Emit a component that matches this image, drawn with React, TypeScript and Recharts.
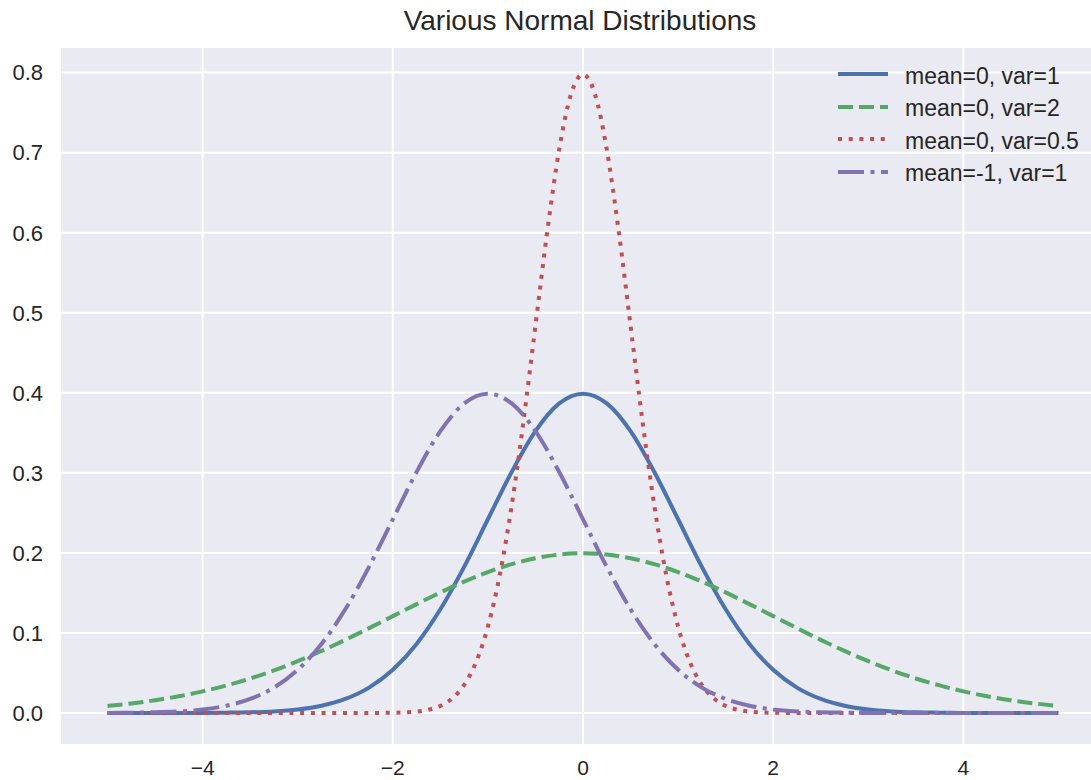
import { LineChart, Line, XAxis, YAxis, CartesianGrid } from "recharts";

// x positions for the wide curves (step 0.25)
const xs = [
  -5, -4.75, -4.5, -4.25, -4, -3.75, -3.5, -3.25, -3, -2.75, -2.5, -2.25, -2, -1.75, -1.5, -1.25, -1, -0.75, -0.5, -0.25,
  0, 0.25, 0.5, 0.75, 1, 1.25, 1.5, 1.75, 2, 2.25, 2.5, 2.75, 3, 3.25, 3.5, 3.75, 4, 4.25, 4.5, 4.75, 5,
];

const blueVals = [
  0, 0, 0, 0, 0.0001, 0.0004, 0.0009, 0.002, 0.0044, 0.0091, 0.0175, 0.0317, 0.054, 0.0863, 0.1295, 0.1826, 0.242, 0.3011, 0.3521, 0.3867,
  0.3989, 0.3867, 0.3521, 0.3011, 0.242, 0.1826, 0.1295, 0.0863, 0.054, 0.0317, 0.0175, 0.0091, 0.0044, 0.002, 0.0009, 0.0004, 0.0001, 0, 0, 0, 0,
];

const greenVals = [
  0.0088, 0.0119, 0.0159, 0.0209, 0.027, 0.0344, 0.0431, 0.0532, 0.0648, 0.0775, 0.0913, 0.106, 0.121, 0.136, 0.1506, 0.1641, 0.176, 0.1859, 0.1933, 0.1979,
  0.1995, 0.1979, 0.1933, 0.1859, 0.176, 0.1641, 0.1506, 0.136, 0.121, 0.106, 0.0913, 0.0775, 0.0648, 0.0532, 0.0431, 0.0344, 0.027, 0.0209, 0.0159, 0.0119, 0.0088,
];

const purpleVals = [
  0.0001, 0.0004, 0.0009, 0.002, 0.0044, 0.0091, 0.0175, 0.0317, 0.054, 0.0863, 0.1295, 0.1826, 0.242, 0.3011, 0.3521, 0.3867, 0.3989, 0.3867, 0.3521, 0.3011,
  0.242, 0.1826, 0.1295, 0.0863, 0.054, 0.0317, 0.0175, 0.0091, 0.0044, 0.002, 0.0009, 0.0004, 0.0001, 0, 0, 0, 0, 0, 0, 0, 0,
];

// the narrow curve needs finer steps near the peak
const xsNarrow = [
  -5, -4, -3, -2.5, -2.25, -2.125, -2, -1.875, -1.75, -1.625, -1.5, -1.375, -1.25, -1.125, -1, -0.875, -0.75, -0.625, -0.5, -0.375, -0.25, -0.125,
  0, 0.125, 0.25, 0.375, 0.5, 0.625, 0.75, 0.875, 1, 1.125, 1.25, 1.375, 1.5, 1.625, 1.75, 1.875, 2, 2.125, 2.25, 2.5, 3, 4, 5,
];

const redVals = [
  0, 0, 0, 0, 0, 0.0001, 0.0003, 0.0007, 0.0017, 0.0041, 0.0089, 0.0182, 0.035, 0.0634, 0.108, 0.1726, 0.259, 0.3652, 0.4839, 0.6022, 0.7041, 0.7734,
  0.7979, 0.7734, 0.7041, 0.6022, 0.4839, 0.3652, 0.259, 0.1726, 0.108, 0.0634, 0.035, 0.0182, 0.0089, 0.0041, 0.0017, 0.0007, 0.0003, 0.0001, 0, 0, 0, 0, 0,
];

const xTicks = [-4, -2, 0, 2, 4];
const yTicks = [0, 0.1, 0.2, 0.3, 0.4, 0.5, 0.6, 0.7, 0.8];

const seriesNames = ["mean=0, var=1", "mean=0, var=2", "mean=0, var=0.5", "mean=-1, var=1"];
const seriesColors = ["#4C72B0", "#55A868", "#C44E52", "#8172B2"];
const seriesDash = ["", "15 6", "4 6.7", "26 6.5 4 6.5"];

const toPoints = (x: number[], y: number[]) => x.map((v, i) => ({ x: v, y: y[i] }));

const series = [
  toPoints(xs, blueVals),
  toPoints(xs, greenVals),
  toPoints(xsNarrow, redVals),
  toPoints(xs, purpleVals),
];

const font = '"Liberation Sans", Arial, sans-serif';

function LegendBox() {
  return (
    <div style={{ position: "absolute", left: 836, top: 58, fontFamily: font, fontSize: 23, color: "#262626" }}>
      {seriesNames.map((name, i) => (
        <div key={name} style={{ display: "flex", alignItems: "center", height: 32.5 }}>
          <svg width={54} height={10} style={{ marginRight: 15 }}>
            <line x1={2} y1={5} x2={52} y2={5} stroke={seriesColors[i]} strokeWidth={4} strokeDasharray={seriesDash[i] || undefined} />
          </svg>
          <span style={{ lineHeight: "23px", marginTop: 4 }}>{name}</span>
        </div>
      ))}
    </div>
  );
}

export default function App() {
  return (
    <div style={{ position: "absolute", left: 0, top: 0, width: 1091, height: 780, overflow: "hidden", background: "#fff" }}>
      <div
        style={{
          position: "absolute",
          left: 0,
          width: 1160,
          top: 7,
          textAlign: "center",
          fontFamily: font,
          fontSize: 28,
          lineHeight: "28px",
          color: "#262626",
        }}
      >
        Various Normal Distributions
      </div>
      <LineChart width={1120} height={780} margin={{ top: 47, right: 14, bottom: 0, left: 0 }}>
        <CartesianGrid fill="#EAEAF2" fillOpacity={1} stroke="#ffffff" strokeWidth={2} />
        <XAxis
          type="number"
          dataKey="x"
          domain={[-5.5, 5.5]}
          allowDataOverflow
          ticks={xTicks}
          tickFormatter={(v: number) => (v < 0 ? `\u2212${Math.abs(v)}` : `${v}`)}
          axisLine={false}
          tickLine={false}
          tickSize={0}
          tickMargin={15}
          height={35}
          tick={{ fill: "#262626", fontSize: 21, fontFamily: font }}
        />
        <YAxis
          type="number"
          dataKey="y"
          domain={[-0.04, 0.832]}
          allowDataOverflow
          ticks={yTicks}
          tickFormatter={(v: number) => v.toFixed(1)}
          axisLine={false}
          tickLine={false}
          tickSize={0}
          tickMargin={17}
          width={60}
          tick={{ fill: "#262626", fontSize: 22, fontFamily: font }}
        />
        {series.map((d, i) => (
          <Line
            key={seriesNames[i]}
            data={d}
            dataKey="y"
            name={seriesNames[i]}
            type="monotone"
            stroke={seriesColors[i]}
            strokeWidth={4}
            strokeDasharray={seriesDash[i] || undefined}
            dot={false}
            activeDot={false}
            isAnimationActive={false}
          />
        ))}
      </LineChart>
      <LegendBox />
    </div>
  );
}
